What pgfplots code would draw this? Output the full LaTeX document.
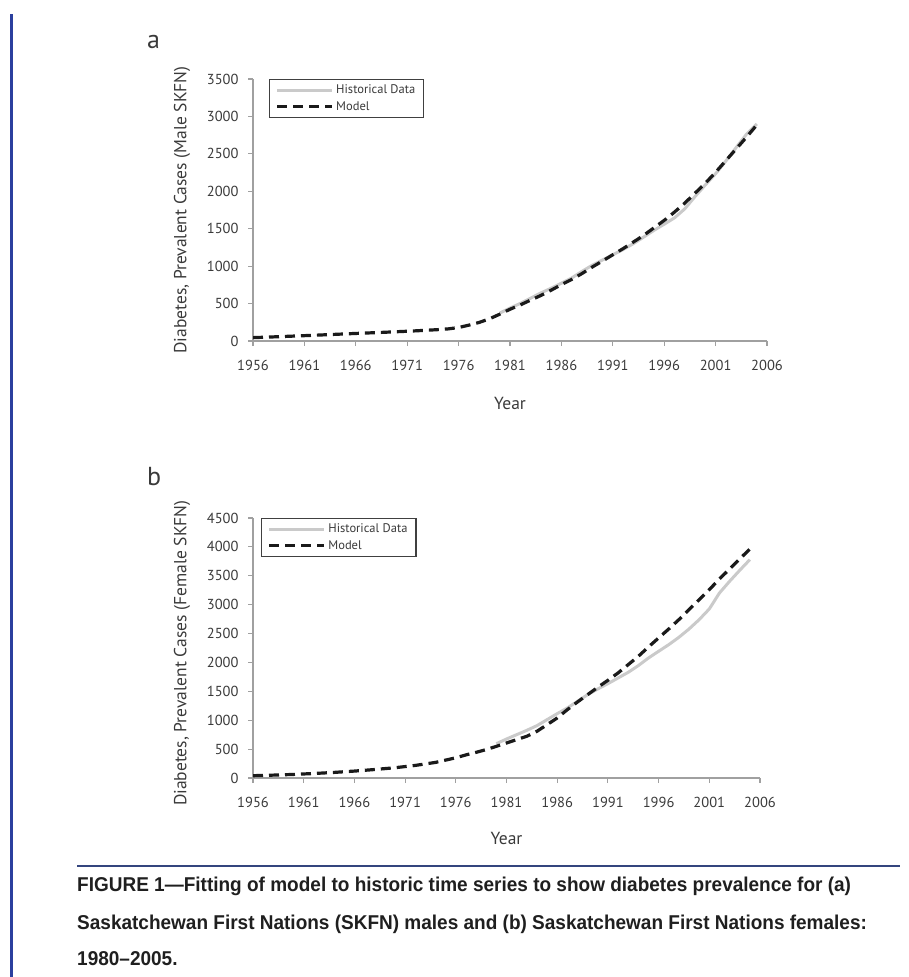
\documentclass[border=0pt]{standalone}
\usepackage{fontspec}
\setmainfont{PT Sans}
\newfontfamily\capfont[FakeStretch=0.95]{Liberation Sans}
\usepackage{pgfplots}
\usepackage{pgfplotstable}
\pgfplotsset{compat=1.18}
\definecolor{axisgray}{HTML}{A0A0A0}
\definecolor{labelgray}{HTML}{3A3A3A}
\definecolor{histgray}{HTML}{CACACA}
\definecolor{modelblack}{HTML}{1A1A1A}
\definecolor{barblue}{HTML}{2B3F9E}
\definecolor{rulenavy}{HTML}{34457E}
\definecolor{legendborder}{HTML}{404040}

\pgfplotstableread{
year val
1956 45
1958 55
1960 66
1962 77
1964 89
1966 101
1968 112
1970 124
1972 137
1974 152
1975 162
1976 180
1977 212
1978 248
1979 296
1980 358
1981 424
1982 482
1983 546
1984 608
1985 679
1986 753
1987 822
1988 901
1989 988
1990 1069
1991 1152
1992 1234
1993 1322
1994 1411
1995 1512
1996 1611
1997 1722
1998 1842
1999 1975
2000 2108
2001 2254
2002 2410
2003 2566
2004 2722
2005 2885
}\modelA

\pgfplotstableread{
year val
1980 372
1981 440
1982 502
1983 572
1984 642
1985 705
1986 772
1987 842
1988 930
1989 1012
1990 1082
1991 1152
1992 1222
1993 1300
1994 1388
1995 1478
1996 1560
1997 1645
1998 1765
1999 1930
2000 2085
2001 2235
2002 2405
2003 2585
2004 2762
2005 2900
}\histA

\pgfplotstableread{
year val
1956 40
1958 50
1960 62
1962 78
1964 97
1966 120
1968 147
1970 178
1972 218
1974 270
1976 350
1977 400
1978 444
1979 492
1980 548
1981 606
1982 664
1983 722
1984 808
1985 923
1986 1039
1987 1183
1988 1316
1989 1443
1990 1570
1991 1691
1992 1818
1993 1962
1994 2106
1995 2268
1996 2424
1997 2579
1998 2741
1999 2914
2000 3087
2001 3260
2002 3445
2003 3618
2004 3791
2005 3964
}\modelB

\pgfplotstableread{
year val
1980 594
1981 675
1982 750
1983 825
1984 906
1985 1010
1986 1114
1987 1212
1988 1327
1989 1443
1990 1541
1991 1633
1992 1731
1993 1829
1994 1945
1995 2077
1996 2193
1997 2308
1998 2435
1999 2579
2000 2741
2001 2926
2002 3202
2003 3404
2004 3595
2005 3780
}\histB

\pgfplotsset{
  panel/.style={
    scale only axis,
    xmin=1956, xmax=2006, ymin=0,
    xtick={1956,1961,...,2006},
    axis x line=bottom, axis y line=left,
    axis line style={-, draw=axisgray, line width=1.1pt},
    every tick/.style={draw=axisgray, line width=1.1pt},
    tick align=outside, major tick length=5pt,
    /pgf/number format/1000 sep={},
    /pgf/number format/assume math mode=true,
    tick label style={font=\fontsize{14.5}{15}\selectfont, text=labelgray},
    xticklabel style={yshift=-11pt},
    yticklabel style={xshift=-6pt},
    label style={font=\fontsize{17.5}{18}\selectfont, text=labelgray},
    xlabel={Year},
    legend cell align=left,
    legend image code/.code={\draw[##1] (0pt,0pt) -- (55pt,0pt);},
    legend style={anchor=north west, draw=legendborder, line width=1.2pt,
      font=\fontsize{12.5}{13}\selectfont, text=labelgray,
      inner xsep=6pt, inner ysep=3pt, row sep=1pt,
      nodes={inner sep=2.5pt}},
  },
  hist/.style={draw=histgray, line width=3pt},
  model/.style={draw=modelblack, line width=3.2pt, dash pattern=on 10pt off 6pt},
}

\begin{document}
\begin{tikzpicture}
\path[use as bounding box] (0pt,0pt) rectangle (909pt,-977pt);
\fill[barblue] (10pt,-14pt) rectangle (12.5pt,-977pt);

\node[anchor=base west, inner sep=0pt, font=\fontsize{26}{28}\selectfont, text=labelgray] at (147pt,-48pt) {a};
\node[anchor=base west, inner sep=0pt, font=\fontsize{26}{28}\selectfont, text=labelgray] at (147pt,-485pt) {b};

\begin{axis}[panel, at={(253pt,-341pt)}, anchor=south west,
  width=514pt, height=262pt, ymax=3500, ytick={0,500,...,3500},
  ylabel={Diabetes, Prevalent Cases (Male SKFN)},
  ylabel style={at={(axis description cs:-0.138,0.5)}, anchor=center, rotate=0},
  xlabel style={at={(axis description cs:0.5,-0.237)}, anchor=center},
  legend style={at={(axis description cs:0.031,1)}}]
\addplot[hist] table[x=year,y=val]{\histA};
\addlegendentry{Historical Data}
\addplot[model] table[x=year,y=val]{\modelA};
\addlegendentry{Model}
\end{axis}

\begin{axis}[panel, at={(253pt,-778pt)}, anchor=south west,
  width=507pt, height=260pt, ymax=4500, ytick={0,500,...,4500},
  ylabel={Diabetes, Prevalent Cases (Female SKFN)},
  ylabel style={at={(axis description cs:-0.140,0.48)}, anchor=center, rotate=0},
  xlabel style={at={(axis description cs:0.5,-0.231)}, anchor=center},
  legend style={at={(axis description cs:0.016,1)}}]
\addplot[hist] table[x=year,y=val]{\histB};
\addlegendentry{Historical Data}
\addplot[model] table[x=year,y=val]{\modelB};
\addlegendentry{Model}
\end{axis}

\draw[rulenavy, line width=1.5pt] (77pt,-866pt) -- (900pt,-866pt);
\begin{scope}[every node/.style={anchor=base west, inner sep=0pt, font=\capfont\bfseries\fontsize{20}{22}\selectfont, text=black!88}]
\node at (77pt,-891pt) {FIGURE 1—Fitting of model to historic time series to show diabetes prevalence for (a)};
\node at (77pt,-929pt) {Saskatchewan First Nations (SKFN) males and (b) Saskatchewan First Nations females:};
\node at (77pt,-965pt) {1980–2005.};
\end{scope}
\end{tikzpicture}
\end{document}
